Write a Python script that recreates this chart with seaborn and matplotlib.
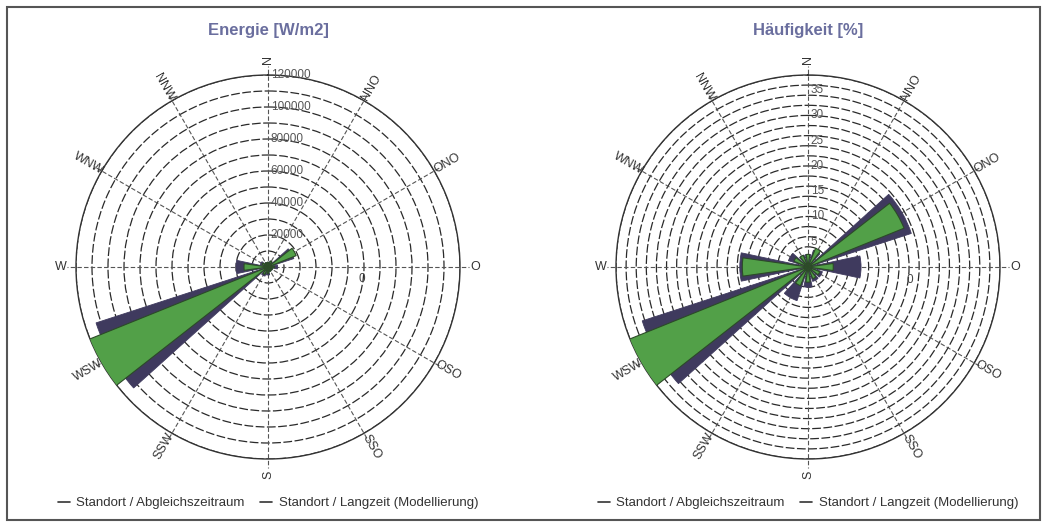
import numpy as np
import matplotlib
matplotlib.use("Agg")
import matplotlib.pyplot as plt
import seaborn as sns
from matplotlib.lines import Line2D
from matplotlib.patches import Rectangle

sns.set_theme(style="white")
plt.rcParams['font.family'] = ['Liberation Sans', 'DejaVu Sans']

# ---------------- data ----------------
directions = ["N", "NNO", "ONO", "O", "OSO", "SSO", "S", "SSW", "WSW", "W", "WNW", "NNW"]
dir_angles = [0, 30, 60, 90, 120, 150, 180, 210, 240, 270, 300, 330]

# Energie [W/m2]
energy_abgleich = [3000, 4000, 19000, 4000, 3000, 3000, 4000, 5000, 122000, 15000, 4000, 3000]
energy_langzeit = [3000, 4000, 17000, 6000, 3000, 3000, 5000, 6000, 113000, 20000, 5000, 3000]
energy_ticks = [20000, 40000, 60000, 80000, 100000, 120000]
energy_tick_labels = ["20000", "40000", "60000", "80000", "100000", "120000"]

# Häufigkeit [%]
freq_abgleich = [2.5, 4.0, 20.5, 5.0, 2.5, 2.5, 3.0, 4.0, 38.5, 13.0, 3.0, 2.5]
freq_langzeit = [2.5, 3.5, 21.5, 10.5, 3.0, 3.0, 4.0, 7.0, 34.5, 13.5, 4.0, 2.5]
freq_ticks = [5, 10, 15, 20, 25, 30, 35]
freq_tick_labels = ["5", "10", "15", "20", "25", "30", "35"]

series_labels = ["Standort / Abgleichszeitraum", "Standort / Langzeit (Modellierung)"]
titles = ["Energie [W/m2]", "Häufigkeit [%]"]

GREEN = "#52a048"
GREEN_EDGE = "#2c4a28"
PURPLE = "#3f3a5e"
TITLE_COLOR = "#6a6e9e"

fig = plt.figure(figsize=(10.47, 5.25), dpi=100)
fig.patch.set_facecolor("white")

R_PX = 192
def axes_rect(cx, cy):
    return [(cx - R_PX) / 1047, (525 - cy - R_PX) / 525, 2 * R_PX / 1047, 2 * R_PX / 525]


def rose(ax, abg, lang, rmax, ring_step, ticks, tick_labels, zero_r, title, cx):
    ax.set_theta_zero_location("N")
    ax.set_theta_direction(-1)
    theta = np.deg2rad(dir_angles)
    ax.bar(theta, lang, width=np.deg2rad(24), color=PURPLE, edgecolor=PURPLE,
           linewidth=0.6, zorder=3)
    ax.bar(theta, abg, width=np.deg2rad(16), color=GREEN, edgecolor=GREEN_EDGE,
           linewidth=0.8, zorder=4)
    ax.set_ylim(0, rmax)
    rings = np.arange(ring_step, rmax + ring_step * 0.01, ring_step)
    ax.set_yticks(rings)
    ax.set_yticklabels([])
    ax.set_xticks([])
    ax.yaxis.grid(True, color="#2a2a2a", linestyle=(0, (7, 2)), linewidth=0.9)
    ax.xaxis.grid(False)
    for sp in ax.spines.values():
        sp.set_color("#333333")
        sp.set_linewidth(1.0)
    ax.set_facecolor("white")
    # spokes
    for a in dir_angles:
        ax.plot([np.deg2rad(a)] * 2, [0, rmax * 1.045], color="#555555",
                linestyle=(0, (4, 2)), linewidth=0.8, clip_on=False, zorder=2)
    # direction labels
    for name, a in zip(directions, dir_angles):
        rot = (90 - a) % 360
        if rot > 180:
            rot -= 360
        if rot > 90:
            rot -= 180
        elif rot <= -90:
            rot += 180
        ax.text(np.deg2rad(a), rmax * 1.08, name, rotation=rot, rotation_mode="anchor",
                ha="center", va="center", fontsize=9, color="#333333", clip_on=False)
    # radial labels
    for v, lab in zip(ticks, tick_labels):
        ax.annotate(lab, xy=(0, v), xytext=(2, 0), textcoords="offset points",
                    ha="left", va="center", fontsize=8.5, color="#555555", zorder=6)
    ax.text(np.deg2rad(97), zero_r, "0", ha="center", va="center", fontsize=8.5,
            color="#444444", zorder=6)
    fig.text(cx / 1047, 1 - 30 / 525, title, ha="center", va="center",
             fontsize=12, fontweight="bold", color=TITLE_COLOR)
    handles = [Line2D([], [], color="#333333", lw=1.2), Line2D([], [], color="#333333", lw=1.2)]
    fig.legend(handles, series_labels, loc="center", ncol=2, frameon=False,
               bbox_to_anchor=(cx / 1047, 22 / 525), fontsize=9.5, handlelength=0.9,
               handletextpad=0.5, columnspacing=1.2, labelcolor="#333333")


ax1 = fig.add_axes(axes_rect(268, 267), projection="polar")
rose(ax1, energy_abgleich, energy_langzeit, 120000, 10000, energy_ticks,
     energy_tick_labels, 59000, titles[0], 268)

ax2 = fig.add_axes(axes_rect(808, 267), projection="polar")
rose(ax2, freq_abgleich, freq_langzeit, 38, 2, freq_ticks,
     freq_tick_labels, 20.4, titles[1], 808)

fig.patches.append(Rectangle((7 / 1047, 5 / 525), 1033 / 1047, 513 / 525,
                             transform=fig.transFigure, fill=False,
                             edgecolor="#555555", linewidth=1.5))

fig.savefig("out.png", dpi=100, facecolor="white")
